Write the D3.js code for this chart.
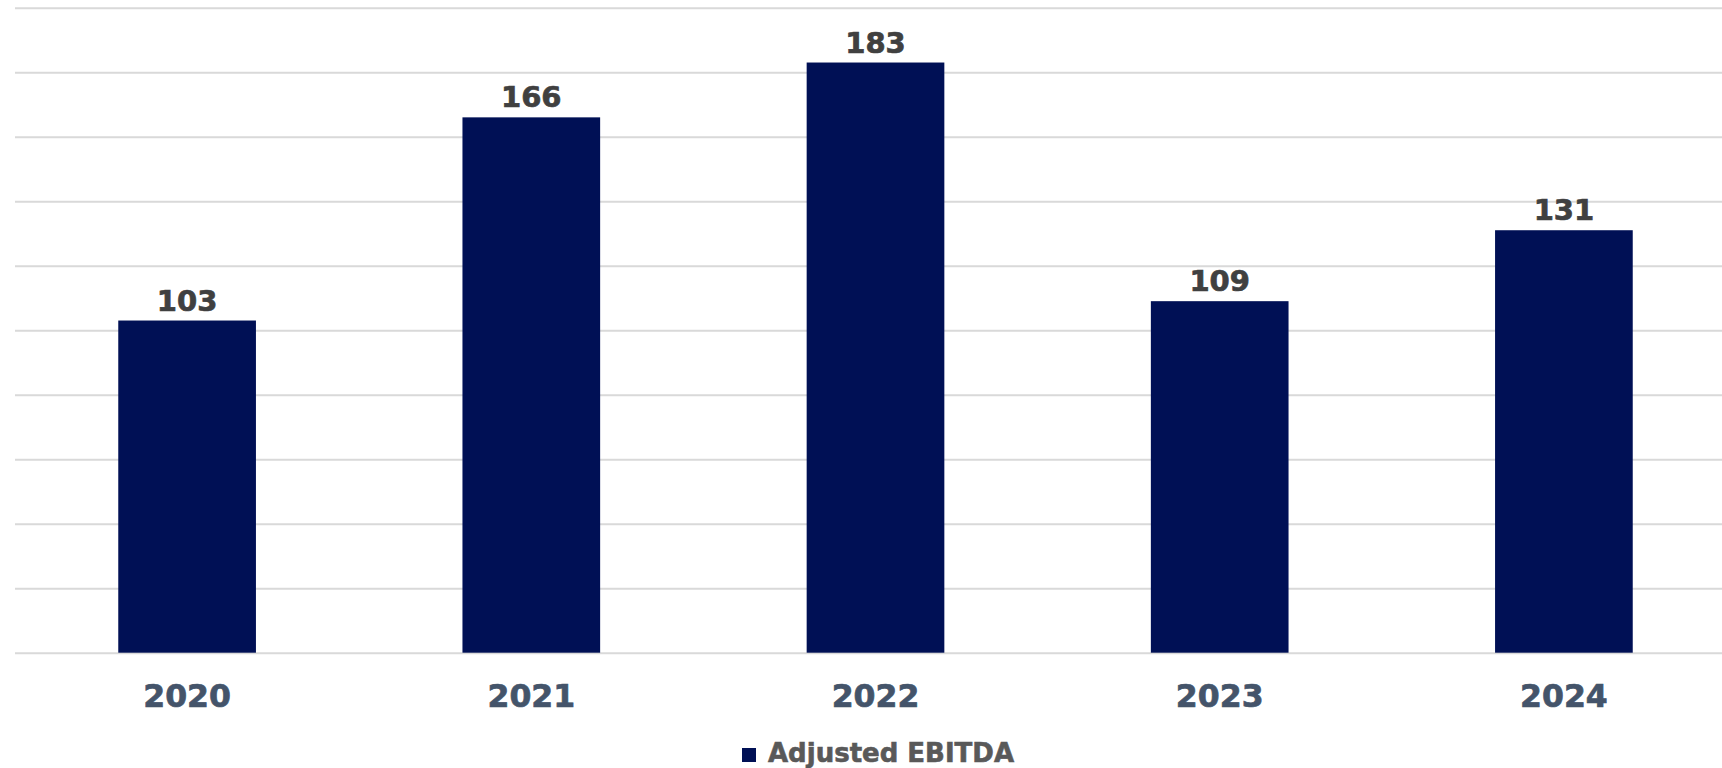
<!DOCTYPE html>
<html>
<head>
<meta charset="utf-8">
<script src="https://cdn.jsdelivr.net/npm/d3@7"></script>
<style>
  html, body { margin: 0; padding: 0; background: #ffffff; }
  svg { display: block; }
  text { font-family: "DejaVu Sans", Verdana, sans-serif; font-weight: bold; }
</style>
</head>
<body>
<svg id="chart" width="1722" height="768"></svg>
<script>
// Adjusted EBITDA by year
const years = ["2020", "2021", "2022", "2023", "2024"];
const ebitda = [103, 166, 183, 109, 131];
const seriesName = "Adjusted EBITDA";
const gridTicks = [0, 20, 40, 60, 80, 100, 120, 140, 160, 180, 200];

const svg = d3.select("#chart");
const plotLeft = 15, plotRight = 1736, plotTop = 7.7, plotBottom = 652.7;

const x = d3.scaleBand().domain(years).range([plotLeft, plotRight]).paddingInner(0.6).paddingOuter(0.3);
const y = d3.scaleLinear().domain([0, 200]).range([plotBottom, plotTop]);

// horizontal gridlines
const yAxis = d3.axisLeft(y).tickValues(gridTicks).tickSize(-(1722 - plotLeft)).tickFormat("");
const gy = svg.append("g").attr("transform", `translate(${plotLeft},0)`).call(yAxis);
gy.select(".domain").remove();
gy.selectAll(".tick line").attr("stroke", "#d9d9d9").attr("stroke-width", 2);

// bars
svg.append("g").selectAll("rect").data(years).join("rect")
  .attr("x", d => x(d))
  .attr("width", x.bandwidth())
  .attr("y", (d, i) => y(ebitda[i]))
  .attr("height", (d, i) => y(0) - y(ebitda[i]))
  .attr("fill", "#001055");

// value labels
svg.append("g").selectAll("text").data(years).join("text")
  .attr("x", d => x(d) + x.bandwidth() / 2)
  .attr("y", (d, i) => y(ebitda[i]) - 10)
  .attr("text-anchor", "middle")
  .attr("font-size", 29)
  .attr("fill", "#404040")
  .attr("stroke", "#404040")
  .attr("stroke-width", 0.7)
  .text((d, i) => ebitda[i]);

// category axis
const xAxis = d3.axisBottom(x).tickSize(0).tickPadding(0);
const gx = svg.append("g").attr("transform", `translate(0,${plotBottom})`).call(xAxis);
gx.select(".domain").remove();
gx.selectAll(".tick text")
  .attr("dy", null)
  .attr("y", 54)
  .attr("font-size", 31.5)
  .attr("font-family", "DejaVu Sans, Verdana, sans-serif")
  .attr("font-weight", "bold")
  .attr("fill", "#44546a")
  .attr("stroke", "#44546a")
  .attr("stroke-width", 0.7);

// legend
const legend = svg.append("g");
legend.append("rect").attr("x", 742).attr("y", 748).attr("width", 14).attr("height", 14).attr("fill", "#001055");
legend.append("text").attr("x", 768).attr("y", 762)
  .attr("font-size", 26).attr("fill", "#595959")
  .attr("stroke", "#595959").attr("stroke-width", 0.6)
  .text(seriesName);
</script>
</body>
</html>
